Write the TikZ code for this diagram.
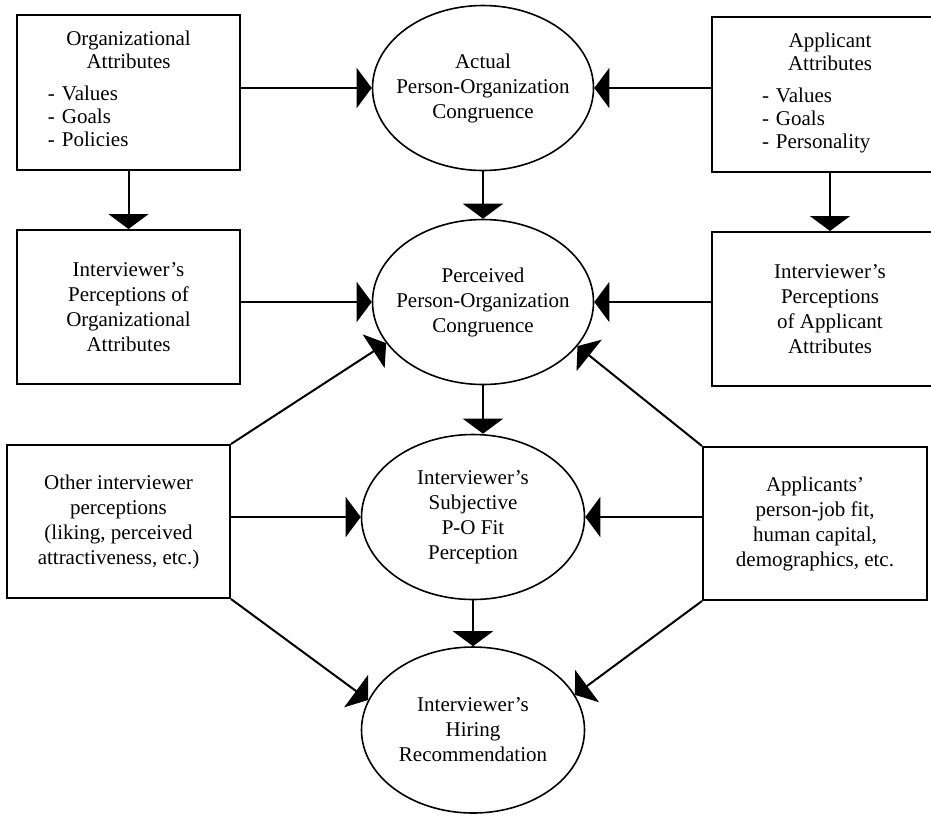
\documentclass[tikz,border=0pt]{standalone}
\usepackage{fontspec}
\setmainfont{Liberation Serif}
\usepackage{tikz}
\usetikzlibrary{shapes, arrows.meta}

\tikzset{
  attrbox/.style={draw, rectangle, line width=1pt, inner sep=0pt, align=center,
    font=\fontsize{10.5}{12.5}\selectfont},
  listbox/.style={attrbox, font=\fontsize{10.5}{11.5}\selectfont},
  fitoval/.style={draw, ellipse, line width=0.8pt, inner sep=-8pt, align=center,
    minimum width=110.5pt, minimum height=82.5pt, font=\fontsize{10.5}{12.5}\selectfont},
  arr/.style={line width=1pt, -{Triangle[length=7.5pt,width=20pt]}}
}

\begin{document}
\begin{tikzpicture}[x=0.5pt, y=-0.5pt]
        \useasboundingbox (0,0) rectangle (931,816);

        % center column
        \node[fitoval] (actual) at (483,88) {Actual\\Person-Organization\\Congruence};
        \node[fitoval] (perceived) at (483,302) {Perceived\\Person-Organization\\Congruence};
        \node[fitoval, minimum width=111.5pt] (subjective) at (473,517) {Interviewer's\\Subjective\\P-O Fit\\Perception};
        \node[fitoval, minimum width=111.5pt, minimum height=83pt] (hiring) at (473,730) {Interviewer's\\Hiring\\Recommendation};

        % left column
        \node[listbox, text width=111.5pt, minimum height=77.5pt] (orgattr) at (128.5,92.5)
            {Organizational\\Attributes\\[4.5pt]
             \makebox[111.5pt][l]{\hspace{15.5pt}\begin{tabular}[t]{@{}l@{}}- Values\\- Goals\\- Policies\end{tabular}}};
        \node[attrbox, minimum width=111.5pt, minimum height=77pt] (intorg) at (128.5,307)
            {Interviewer's\\Perceptions of\\Organizational\\Attributes};
        \node[attrbox, minimum width=111.5pt, minimum height=76.5pt] (otherperc) at (118.5,521.5)
            {Other interviewer\\perceptions\\(liking, perceived\\attractiveness, etc.)};

        % right column
        \node[listbox, text width=118pt, minimum height=77.5pt] (applattr) at (830,94.5)
            {Applicant\\Attributes\\[4.5pt]
             \makebox[118pt][l]{\hspace{25pt}\begin{tabular}[t]{@{}l@{}}- Values\\- Goals\\- Personality\end{tabular}}};
        \node[attrbox, minimum width=118pt, minimum height=77pt] (intappl) at (830,309)
            {Interviewer's\\Perceptions\\of Applicant\\Attributes};
        \node[attrbox, minimum width=112pt, minimum height=76.5pt] (applfit) at (815,523.5)
            {Applicants'\\person-job fit,\\human capital,\\demographics, etc.};

        \draw[arr] (orgattr.east |- actual) -- (actual);
        \draw[arr] (applattr.west |- actual) -- (actual);
        \draw[arr] (orgattr) -- (intorg);
        \draw[arr] (applattr) -- (intappl);
        \draw[arr] (actual) -- (perceived);
        \draw[arr] (intorg.east |- perceived) -- (perceived);
        \draw[arr] (intappl.west |- perceived) -- (perceived);
        \draw[arr] (otherperc.north east) -- (perceived.203);
        \draw[arr] (applfit.north west) -- (perceived.335);
        \draw[arr] (perceived.south) -- (perceived.south |- subjective.north);
        \draw[arr] (otherperc.east |- subjective) -- (subjective);
        \draw[arr] (applfit.west |- subjective) -- (subjective);
        \draw[arr] (subjective) -- (hiring);
        \draw[arr] (otherperc.south east) -- (hiring.164);
        \draw[arr] (applfit.south west) -- (hiring.19);
\end{tikzpicture}
\end{document}
